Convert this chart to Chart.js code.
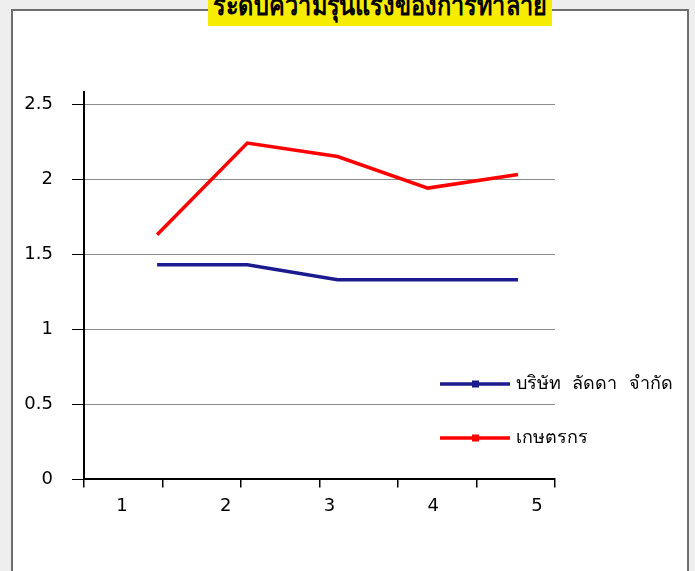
<!DOCTYPE html>
<html>
<head>
<meta charset="utf-8">
<script src="https://cdn.jsdelivr.net/npm/chart.js@4.4.1/dist/chart.umd.min.js"></script>
<style>
  html, body { margin: 0; padding: 0; background: #eeeeee; overflow: hidden; }
  #frame {
    position: absolute; left: 11px; top: 9px; width: 674px; height: 600px;
    background: #ffffff; border: 2px solid #6e6e6e;
  }
  #wrap { position: absolute; left: 0; top: 0; width: 695px; height: 571px; }
  #title {
    position: absolute; left: 208px; top: 0; width: 344px; height: 26px;
    background: #f5ec00; overflow: hidden;
  }
  #title span {
    position: absolute; left: 50%; top: -12px;
    font: bold 28px "Noto Sans", sans-serif; line-height: 32px; color: #000;
    white-space: nowrap; transform: translateX(-50%) scaleX(0.84);
  }
</style>
</head>
<body>
<div id="frame"></div>
<div id="wrap"><canvas id="chart" width="695" height="571"></canvas></div>
<div id="title"><span>ระดับความรุนแรงของการทำลาย</span></div>
<script>
const categories = [1, 2, 3, 4, 5];
const tickLabels = ["1", "2", "3", "4", "5"];
const seriesNames = ["บริษัท  ลัดดา  จำกัด", "เกษตรกร"];
const laddaValues = [1.43, 1.43, 1.33, 1.33, 1.33];
const farmerValues = [1.63, 2.24, 2.15, 1.94, 2.03];
const yTicks = [0, 0.5, 1, 1.5, 2, 2.5];

const FONT = { family: "'DejaVu Sans', sans-serif", size: 18 };

const legendPlugin = {
  id: "sideLegend",
  afterDraw(chart, args, opts) {
    const ctx = chart.ctx;
    ctx.save();
    chart.data.datasets.forEach((ds, i) => {
      const y = opts.y + i * opts.gap;
      ctx.strokeStyle = ds.borderColor;
      ctx.lineWidth = 3.5;
      ctx.beginPath();
      ctx.moveTo(opts.x, y);
      ctx.lineTo(opts.x + 70, y);
      ctx.stroke();
      ctx.fillStyle = ds.borderColor;
      ctx.fillRect(opts.x + 32, y - 3.5, 7, 7);
      ctx.fillStyle = "#000";
      ctx.font = FONT.size + "px " + FONT.family;
      ctx.textBaseline = "middle";
      ctx.fillText(ds.label, opts.x + 76, y);
    });
    ctx.restore();
  },
};

const toPoints = vals => categories.map((c, i) => ({ x: c, y: vals[i] }));

new Chart(document.getElementById("chart"), {
  type: "line",
  data: {
    datasets: [
      {
        label: seriesNames[0],
        data: toPoints(laddaValues),
        borderColor: "#1b1b8f",
        borderWidth: 3.5,
        pointRadius: 0,
        tension: 0,
      },
      {
        label: seriesNames[1],
        data: toPoints(farmerValues),
        borderColor: "#ff0000",
        borderWidth: 3.5,
        pointRadius: 0,
        tension: 0,
      },
    ],
  },
  options: {
    responsive: false,
    animation: false,
    layout: { padding: { left: 0, right: 140, top: 92, bottom: 46 } },
    plugins: {
      legend: { display: false },
      tooltip: { enabled: false },
      sideLegend: { x: 440, y: 384, gap: 54 },
    },
    scales: {
      x: {
        type: "linear",
        display: false,
        min: 0.19,
        max: 5.41,
      },
      xMarks: {
        type: "linear",
        position: "bottom",
        weight: 0,
        min: 0,
        max: 6,
        ticks: { display: false, stepSize: 1 },
        grid: { drawOnChartArea: false, drawTicks: true, tickLength: 8, color: "#000", lineWidth: 1.5 },
        border: { display: true, color: "#000", width: 2 },
      },
      xLabels: {
        type: "linear",
        position: "bottom",
        weight: 1,
        min: 0.634,
        max: 5.174,
        afterBuildTicks: s => { s.ticks = categories.map(v => ({ value: v })); },
        ticks: {
          font: FONT,
          color: "#000",
          padding: 8,
          maxRotation: 0,
          callback: (v, i) => tickLabels[i],
        },
        grid: { display: false, drawTicks: false },
        border: { display: false },
      },
      y: {
        min: 0,
        max: 2.58,
        afterBuildTicks: s => { s.ticks = yTicks.map(v => ({ value: v })); },
        afterFit: s => { s.width = 84; },
        ticks: { font: FONT, color: "#000", padding: 19, callback: v => String(v) },
        grid: { color: "#8a8a8a", lineWidth: 1, tickColor: "#000", tickLength: 12 },
        border: { display: true, color: "#000", width: 2 },
      },
    },
  },
  plugins: [legendPlugin],
});
</script>
</body>
</html>
